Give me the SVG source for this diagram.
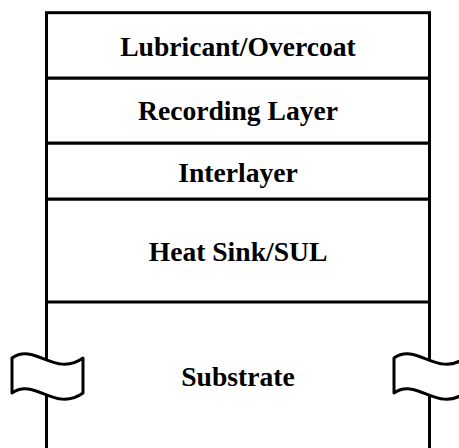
<svg xmlns="http://www.w3.org/2000/svg" width="459" height="448" viewBox="0 0 459 448">
<style>
.ln{stroke:#000;stroke-width:3;fill:none}
.box{stroke:#000;stroke-width:3;fill:#fff}
.flag{stroke:#000;stroke-width:3;fill:#fff;stroke-linejoin:round}
.t{font-family:"Liberation Serif","Times New Roman",serif;font-weight:bold;font-size:27.6px;text-anchor:middle;fill:#000}
</style>
<defs>
<path id="flagshape" d="M0,358 C23,342 43,378 71,358 L71,393 C43,413 23,377 0,393 Z"/>
</defs>
<g id="substrate">
<path class="ln" d="M46.5,302 V448 M429.5,302 V448"/>
<use href="#flagshape" class="flag" x="12"/>
<use href="#flagshape" class="flag" x="394"/>
<text class="t" x="238" y="386">Substrate</text>
</g>
<g id="heatsink">
<rect class="box" x="46.5" y="199" width="383" height="103"/>
<text class="t" x="238" y="261">Heat Sink/SUL</text>
</g>
<g id="interlayer">
<rect class="box" x="46.5" y="143" width="383" height="56"/>
<text class="t" x="238" y="182">Interlayer</text>
</g>
<g id="recording">
<rect class="box" x="46.5" y="78" width="383" height="65"/>
<text class="t" x="238" y="120">Recording Layer</text>
</g>
<g id="lubricant">
<rect class="box" x="46.5" y="12.7" width="383" height="65.3"/>
<text class="t" x="238" y="56">Lubricant/Overcoat</text>
</g>
<g id="connectors"></g>
</svg>
